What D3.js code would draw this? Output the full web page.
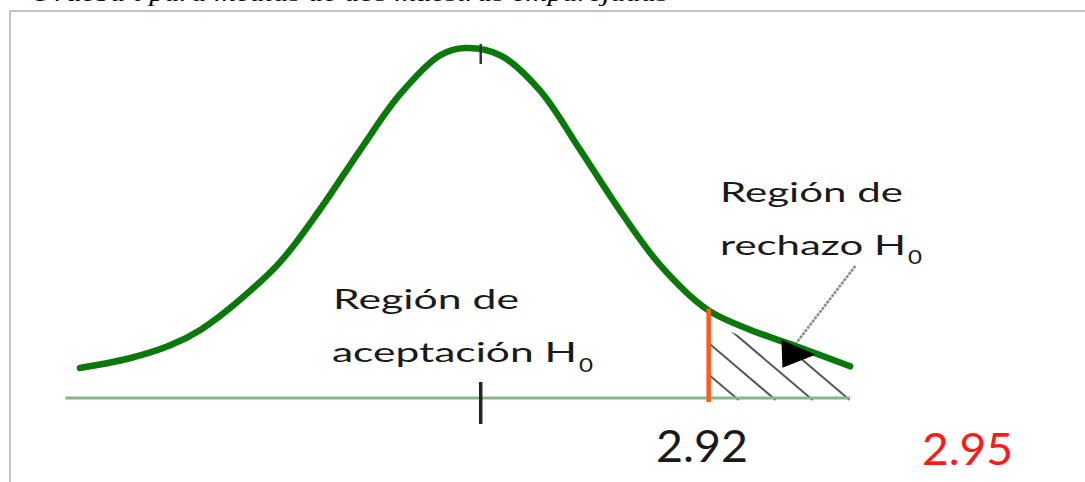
<!DOCTYPE html>
<meta charset="utf-8"/>
<title>Región de aceptación y rechazo</title>
<script src="https://cdn.jsdelivr.net/npm/d3@7"></script>
<style>
    body { margin: 0; background: #fff; }
    svg { display: block; }
    .label { font-family: Lato, "Open Sans", sans-serif; fill: #1a1a1a; }
</style>
<svg id="chart" width="1085" height="482"></svg>
<script>
"use strict";

// curve: standardized position and height
const curveZ = [-2.94, -2.56, -2.25, -2.02, -1.72, -1.41, -1.11, -0.80, -0.50, -0.19, 0,
                0.27, 0.57, 0.88, 1.18, 1.49, 1.85, 2.18, 2.56, 2.94];
const curveDensity = [0.005, 0.017, 0.033, 0.052, 0.089, 0.136, 0.200, 0.274, 0.342, 0.391, 0.400,
                      0.391, 0.348, 0.274, 0.200, 0.132, 0.077, 0.052, 0.030, 0.007];

const axisExtent = [-3.05, 2.94];
const meanTick = 0.12;
const criticalZ = 1.86;
const criticalDensity = 0.077;
const tickLabels = ["2.92", "2.95"];
const acceptLines = ["Región de", "aceptación H"];
const rejectLines = ["Región de", "rechazo H"];
const subscript = "0";
const title = "Prueba t para medias de dos muestras emparejadas";

const width = 1085;
const height = 482;
const axisY = 398;

const x = d3.scaleLinear().domain([-3, 3]).range([72, 858]);
const y = d3.scaleLinear().domain([0, 0.4]).range([372, 48]);

const svg = d3.select("#chart");
const points = curveZ.map(function (z, i) { return [z, curveDensity[i]]; });

// frame and the title cut by the top edge
svg.append("path")
    .attr("d", "M10," + height + "V11H" + width)
    .attr("fill", "none")
    .attr("stroke", "#c4c4c4")
    .attr("stroke-width", 2);

svg.append("text")
    .attr("x", 36)
    .attr("y", 1)
    .attr("textLength", 632)
    .attr("lengthAdjust", "spacingAndGlyphs")
    .style("font", "italic 22px 'Liberation Serif', serif")
    .text(title);

// hatched rejection region
const tail = points.filter(function (p) { return p[0] >= criticalZ - 0.4; });
const clipArea = d3.area()
    .curve(d3.curveCatmullRom)
    .x(function (p) { return x(p[0]); })
    .y0(axisY + 4)
    .y1(function (p) { return y(p[1]) + 10; });

const defs = svg.append("defs");
defs.append("clipPath").attr("id", "tailClip")
    .append("path")
    .attr("d", clipArea(tail));
defs.append("clipPath").attr("id", "rightOfCrit")
    .append("rect")
    .attr("x", x(criticalZ))
    .attr("y", 0)
    .attr("width", x(3) - x(criticalZ) - 4)
    .attr("height", height);

const slope = 0.85;
svg.append("g")
    .attr("clip-path", "url(#rightOfCrit)")
    .append("g")
    .attr("clip-path", "url(#tailClip)")
    .selectAll("line")
    .data(d3.range(x(criticalZ) + 30, x(3) + 10, 37))
    .join("line")
    .attr("x1", function (d) { return d - 160; })
    .attr("y1", axisY + 2 - 160 * slope)
    .attr("x2", function (d) { return d; })
    .attr("y2", axisY + 2)
    .attr("stroke", "#555")
    .attr("stroke-width", 2);

// baseline
svg.append("line")
    .attr("x1", x(axisExtent[0]))
    .attr("x2", x(axisExtent[1]))
    .attr("y1", axisY)
    .attr("y2", axisY)
    .attr("stroke", "#86b686")
    .attr("stroke-width", 3);

// bell curve
svg.append("path")
    .datum(points)
    .attr("d", d3.line()
        .curve(d3.curveCatmullRom)
        .x(function (p) { return x(p[0]); })
        .y(function (p) { return y(p[1]); }))
    .attr("fill", "none")
    .attr("stroke", "#0b780b")
    .attr("stroke-width", 6.5)
    .attr("stroke-linecap", "round")
    .attr("stroke-linejoin", "round");

// critical value line
svg.append("line")
    .attr("x1", x(criticalZ))
    .attr("x2", x(criticalZ))
    .attr("y1", y(criticalDensity) - 1)
    .attr("y2", axisY + 4)
    .attr("stroke", "#ff5a1e")
    .attr("stroke-width", 4.5);

// mean ticks
svg.append("line")
    .attr("x1", x(meanTick)).attr("x2", x(meanTick))
    .attr("y1", axisY - 16).attr("y2", axisY + 26)
    .attr("stroke", "#222").attr("stroke-width", 3.5);
svg.append("line")
    .attr("x1", x(meanTick)).attr("x2", x(meanTick))
    .attr("y1", y(0.4) - 4).attr("y2", y(0.4) + 16)
    .attr("stroke", "#333").attr("stroke-width", 2.5);

// arrow to rejection region
const arrowFrom = [2.98, 0.131];
const arrowTo = [2.53, 0.036];
svg.append("line")
    .attr("x1", x(arrowFrom[0])).attr("y1", y(arrowFrom[1]))
    .attr("x2", x(arrowTo[0])).attr("y2", y(arrowTo[1]))
    .attr("stroke", "#8a8a8a")
    .attr("stroke-width", 2.5)
    .attr("stroke-dasharray", "3,1");
svg.append("path")
    .attr("d", "M-15,-3L-14,25L19,12Z")
    .attr("transform", "translate(" + x(arrowTo[0]) + "," + y(arrowTo[1]) + ")")
    .attr("fill", "#000");

// labels
function label(txt, x0, base, len, size, color)
{
    return svg.append("text")
        .attr("class", "label")
        .attr("x", x0)
        .attr("y", base)
        .attr("textLength", len)
        .attr("lengthAdjust", "spacingAndGlyphs")
        .style("font-size", size + "px")
        .style("fill", color || null)
        .text(txt);
}

label(acceptLines[0], 333, 309, 186, 27);
label(acceptLines[1], 332, 362, 245, 27);
label(subscript, 579, 372, 14, 20);

label(rejectLines[0], 720, 202, 183, 27);
label(rejectLines[1], 720, 255, 186, 27);
label(subscript, 908, 264, 14, 20);

label(tickLabels[0], 656, 462, 92, 44);
label(tickLabels[1], 922, 465, 91, 44, "#ff1a1a");
</script>
